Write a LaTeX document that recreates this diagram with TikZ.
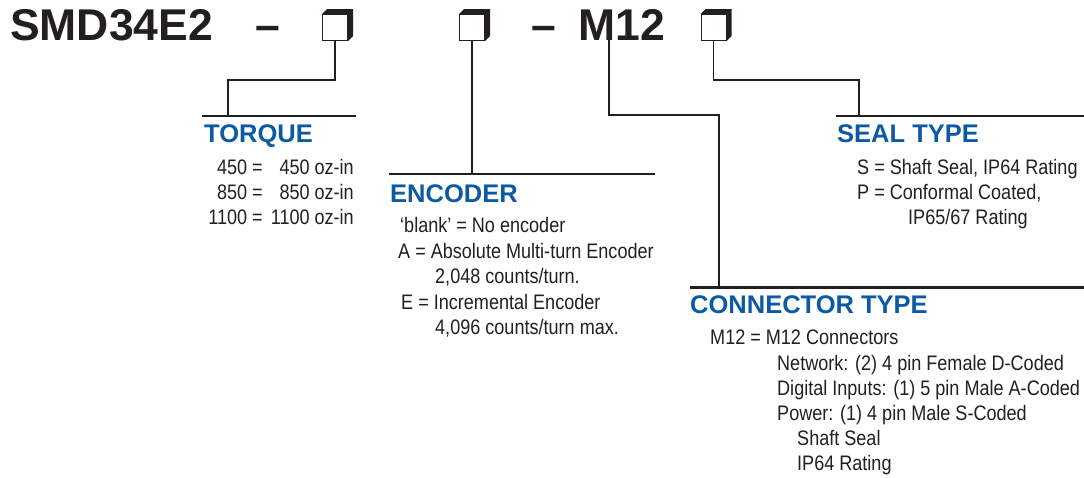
\documentclass[tikz,border=0pt]{standalone}
\usepackage{fontspec}
\newfontfamily\lsans{Liberation Sans}
\newfontfamily\lnarrow{Liberation Sans}[FakeStretch=0.86]
\definecolor{ink}{HTML}{231F20}
\definecolor{hblue}{HTML}{0C5AA6}
\tikzset{
  titletext/.style={font=\lsans\bfseries\fontsize{44.5}{44.5}\selectfont, text=ink, inner sep=0pt, anchor=base west},
  headtext/.style={font=\lsans\bfseries\fontsize{25.5}{25.5}\selectfont, text=hblue, inner sep=0pt, anchor=base west},
  bodytext/.style={font=\lnarrow\fontsize{21}{21}\selectfont, text=ink, inner sep=0pt, anchor=base west},
  bodyright/.style={bodytext, anchor=base east},
  codebox/.style={draw=ink, line width=1pt, fill=white, minimum width=25pt, minimum height=26pt, inner sep=0pt},
  conn/.style={draw=ink, line width=1.8pt},
  rulebar/.style={draw=ink, line width=2.6pt},
}
\begin{document}
\begin{tikzpicture}[x=1pt, y=-1pt]
\useasboundingbox (0,0) rectangle (1084,477);

% title line
\node[titletext] (title) at (10,40) {SMD34E2};
\node[titletext] (dash1) at (255,40) {–};
\node[titletext] (dash2) at (531,40) {–};
\node[titletext] (m12) at (578,40) {M12};
\coordinate (mtap) at (609,40);

% code boxes
\node[codebox] (b1) at (335,27.5) {};
\node[codebox] (b2) at (472,27.5) {};
\node[codebox] (b3) at (713.5,27.5) {};
\foreach \b in {b1,b2,b3}{
  \fill[ink] (\b.north west) -- ([shift={(5,-5)}]\b.north west) -- ([shift={(5,-5)}]\b.north east)
    -- ([shift={(5,-5)}]\b.south east) -- (\b.south east) -- (\b.north east) -- cycle;
}

% rules
\draw[rulebar] (202,116) -- (356,116);
\draw[rulebar] (389,174) -- (655,174);
\draw[rulebar] (836,116) -- (1084,116);
\draw[rulebar] (690,287.5) -- (1084,287.5);
\coordinate (tqtap) at (228,116);
\coordinate (enctap) at (472,174);
\coordinate (sealtap) at (859,116);
\coordinate (contap) at (719,287.5);

% connectors
\draw[conn] (b1.south) -- ++(0,39) -| (tqtap);
\draw[conn] (b2.south) -- (enctap);
\draw[conn] (b3.south) -- ++(0,39) -| (sealtap);
\draw[conn] (mtap) -- ++(0,75) -| (contap);

% TORQUE
\node[headtext] (hT) at (204,142.5) {TORQUE};
\node[bodyright] (tq1a) at (263,174) {450 =};
\node[bodyright] (tq1b) at (354,174) {450 oz-in};
\node[bodyright] (tq2a) at (263,199) {850 =};
\node[bodyright] (tq2b) at (354,199) {850 oz-in};
\node[bodyright] (tq3a) at (263,224) {1100 =};
\node[bodyright] (tq3b) at (354,224) {1100 oz-in};

% ENCODER
\node[headtext] (hE) at (390,202) {ENCODER};
\node[bodytext] (e1) at (400,232) {‘blank’ = No encoder};
\node[bodytext] (e2) at (398,258) {A = Absolute Multi-turn Encoder};
\node[bodytext] (e3) at (435,283) {2,048 counts/turn.};
\node[bodytext] (e4) at (401,309) {E = Incremental Encoder};
\node[bodytext] (e5) at (435,334) {4,096 counts/turn max.};

% SEAL TYPE
\node[headtext] (hS) at (837,142.5) {SEAL TYPE};
\node[bodytext] (s1) at (857,174) {S = Shaft Seal, IP64 Rating};
\node[bodytext] (s2) at (857,199) {P = Conformal Coated,};
\node[bodytext] (s3) at (908,224) {IP65/67 Rating};

% CONNECTOR TYPE
\node[headtext] (hC) at (690,313) {CONNECTOR TYPE};
\node[bodytext] (c1) at (710,344) {M12 = M12 Connectors};
\node[bodytext] (c2) at (777,370) {Network: (2) 4 pin Female D-Coded};
\node[bodytext] (c3) at (777,395) {Digital Inputs: (1) 5 pin Male A-Coded};
\node[bodytext] (c4) at (777,420) {Power: (1) 4 pin Male S-Coded};
\node[bodytext] (c5) at (797,445) {Shaft Seal};
\node[bodytext] (c6) at (797,470) {IP64 Rating};
\end{tikzpicture}
\end{document}
